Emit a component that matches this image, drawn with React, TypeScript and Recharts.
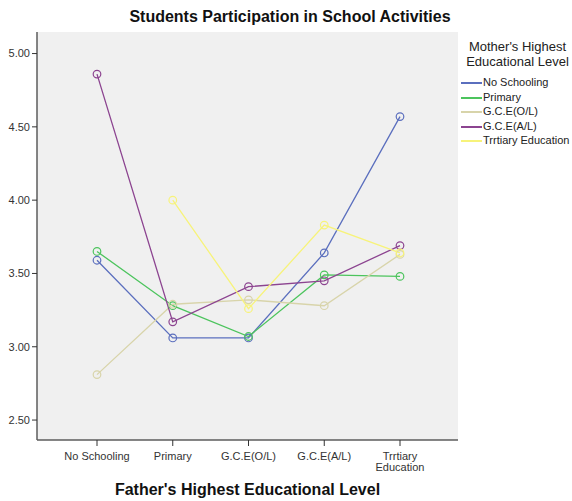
import { CartesianGrid, Line, LineChart, XAxis, YAxis } from "recharts";

const categories = ["No Schooling", "Primary", "G.C.E(O/L)", "G.C.E(A/L)", "Trrtiary Education"];
const noSchooling = [3.59, 3.06, 3.06, 3.64, 4.57];
const primary = [3.65, 3.28, 3.07, 3.49, 3.48];
const olevel = [2.81, 3.29, 3.32, 3.28, 3.63];
const alevel = [4.86, 3.17, 3.41, 3.45, 3.69];
const tertiary = [null, 4.0, 3.26, 3.83, 3.64];
const yTicks = [2.5, 3.0, 3.5, 4.0, 4.5, 5.0];

const series = [
  { key: "noSchooling", name: "No Schooling", color: "#5b6fbe", values: noSchooling },
  { key: "primary", name: "Primary", color: "#4cc45d", values: primary },
  { key: "olevel", name: "G.C.E(O/L)", color: "#d8d4aa", values: olevel },
  { key: "alevel", name: "G.C.E(A/L)", color: "#8c4490", values: alevel },
  { key: "tertiary", name: "Trrtiary Education", color: "#f7f37a", values: tertiary },
];

const data = categories.map((c, i) => {
  const row: Record<string, any> = { cat: c };
  series.forEach((s) => (row[s.key] = s.values[i]));
  return row;
});

const FONT = "'Liberation Sans', Arial, sans-serif";
const BORDER = "#5c5c5c";

const CatTick = (props: any) => {
  const { x, y, payload } = props;
  const v: string = payload.value;
  const lines = v.length > 14 ? v.split(" ") : [v];
  return (
    <text x={x} y={y} textAnchor="middle" fontSize={11} fill="#333" fontFamily={FONT}>
      {lines.map((w, i) => (
        <tspan key={i} x={x} y={y + 12 + i * 11}>
          {w}
        </tspan>
      ))}
    </text>
  );
};

export default function App() {
  return (
    <div style={{ position: "absolute", left: 0, top: 0, width: 572, height: 501, background: "#fff", fontFamily: FONT }}>
      <div
        style={{
          position: "absolute",
          left: 90,
          width: 400,
          top: 8,
          textAlign: "center",
          fontWeight: "bold",
          fontSize: 16,
          color: "#111",
        }}
      >
        Students Participation in School Activities
      </div>
      <LineChart width={572} height={501} data={data} margin={{ top: 32, right: 114, bottom: 0, left: 0 }}>
        <CartesianGrid fill="#f0f0f0" stroke="none" />
        <XAxis
          dataKey="cat"
          height={61}
          padding={{ left: 60, right: 58 }}
          axisLine={{ stroke: BORDER, strokeWidth: 1.5 }}
          tickLine={{ stroke: "#333" }}
          tickSize={6}
          tickMargin={2}
          tick={<CatTick />}
          interval={0}
        />
        <XAxis
          xAxisId="top"
          dataKey="cat"
          orientation="top"
          height={0}
          tick={false}
          tickLine={false}
          axisLine={{ stroke: BORDER, strokeWidth: 1.5 }}
        />
        <YAxis
          type="number"
          width={37}
          domain={[2.364, 5.147]}
          ticks={yTicks}
          allowDataOverflow
          tickFormatter={(v: number) => v.toFixed(2)}
          axisLine={{ stroke: BORDER, strokeWidth: 1.5 }}
          tickLine={{ stroke: "#333" }}
          tickSize={5}
          tickMargin={2}
          tick={{ fontSize: 11, fill: "#333", fontFamily: FONT }}
        />
        <YAxis
          yAxisId="right"
          orientation="right"
          width={0}
          domain={[2.364, 5.147]}
          tick={false}
          tickLine={false}
          axisLine={{ stroke: BORDER, strokeWidth: 1.5 }}
        />
        {series.map((s) => (
          <Line
            key={s.key}
            dataKey={s.key}
            name={s.name}
            type="linear"
            stroke={s.color}
            strokeWidth={1.3}
            dot={{ r: 3.8, stroke: s.color, strokeWidth: 1.2, fill: "none" }}
            activeDot={false}
            isAnimationActive={false}
          />
        ))}
      </LineChart>
      <div
        style={{
          position: "absolute",
          left: 37,
          width: 421,
          top: 481,
          textAlign: "center",
          fontWeight: "bold",
          fontSize: 16,
          color: "#111",
        }}
      >
        Father's Highest Educational Level
      </div>
      <div style={{ position: "absolute", left: 459, top: 40, width: 113, height: 120 }}>
        <div style={{ fontSize: 13, lineHeight: "14.5px", textAlign: "center", color: "#222", paddingLeft: 4 }}>
          Mother's Highest
          <br />
          Educational Level
        </div>
        {series.map((s, i) => (
          <div
            key={s.key}
            style={{ position: "absolute", left: 0, top: 35 + Math.round(i * 14.5), height: 14, whiteSpace: "nowrap" }}
          >
            <div style={{ position: "absolute", left: 2, top: 7, width: 21, height: 2, background: s.color }} />
            <span style={{ position: "absolute", left: 24, top: 0, fontSize: 11, lineHeight: "14px", color: "#222" }}>
              {s.name}
            </span>
          </div>
        ))}
      </div>
    </div>
  );
}
